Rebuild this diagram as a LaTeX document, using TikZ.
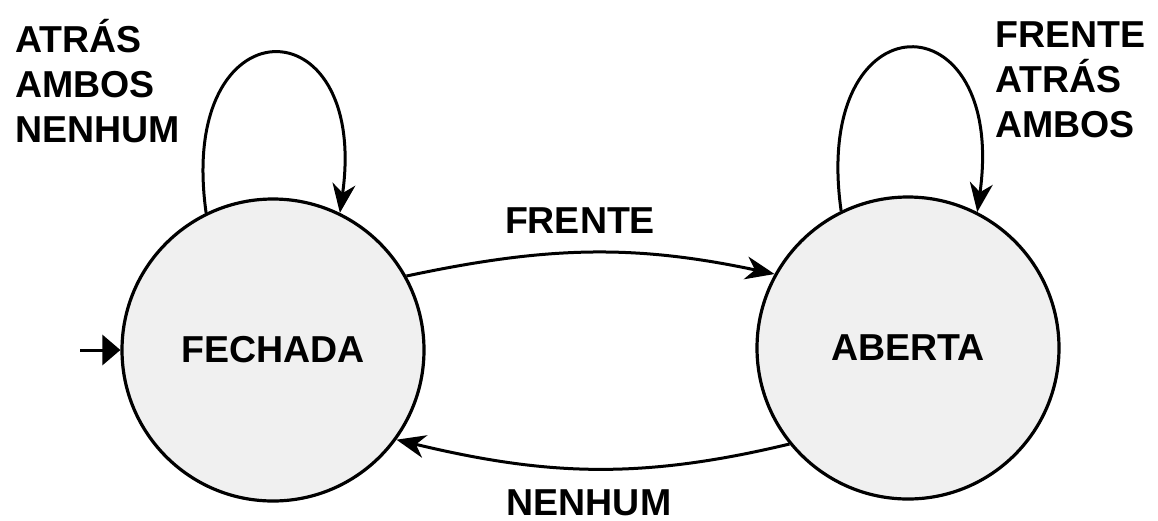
\documentclass[tikz,border=0pt]{standalone}
\usepackage{fontspec}
\setmainfont{Liberation Sans}
\usetikzlibrary{arrows.meta}
\definecolor{statefill}{RGB}{240,240,240}
\begin{document}
\begin{tikzpicture}[x=1pt,y=-1pt,
  state/.style={circle,draw=black,line width=3.2pt,fill=statefill,
    minimum size=302pt,inner sep=0pt,font=\bfseries\fontsize{37.5}{45}\selectfont},
  edgelabel/.style={inner sep=0pt,font=\bfseries\fontsize{37.5}{45}\selectfont},
  trans/.style={line width=3pt,-{Stealth[length=29pt,width=23pt,inset=9pt]}},
  initarrow/.style={line width=3pt,-{Triangle[length=18pt,width=30pt]}}]
  \useasboundingbox (0,0) rectangle (1158,520);

  % states
  \node[state] (F) at (273,350) {FECHADA};
  \node[state] (A) at (908,348) {ABERTA};

  % start marker
  \coordinate (start) at (80,350);
  \draw[initarrow] (start) -- (F.west);

  % transitions between the states
  \draw[trans] (F.29) to[out=12,in=168] (A.151);
  \draw[trans] (A.219) to[out=193.5,in=-13.5] (F.324);

  % self loops
  \draw[trans] (F.116) to[out=98,in=82,looseness=4.1] (F.64);
  \draw[trans] (A.116) to[out=98,in=82,looseness=4.1] (A.63);

  % labels
  \node[edgelabel,anchor=base] (lf) at (580,233) {FRENTE};
  \node[edgelabel,anchor=base] (ln) at (589,515) {NENHUM};
  \node[edgelabel,anchor=base west,align=left] (lloopF) at (15,142)
    {ATRÁS\\AMBOS\\NENHUM};
  \node[edgelabel,anchor=base west,align=left] (lloopA) at (995,137)
    {FRENTE\\ATRÁS\\AMBOS};
\end{tikzpicture}
\end{document}
